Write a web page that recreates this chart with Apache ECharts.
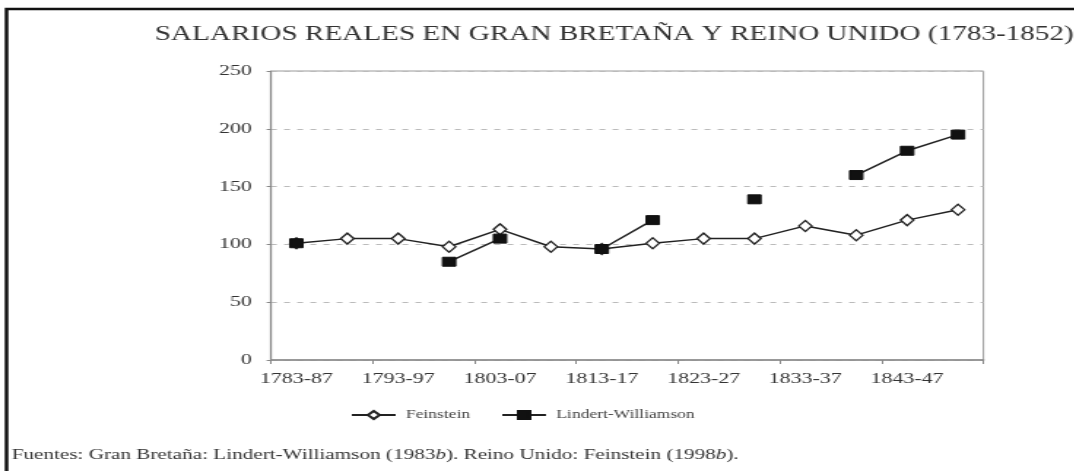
<!DOCTYPE html>
<html>
<head>
<meta charset="utf-8">
<script src="https://cdn.jsdelivr.net/npm/echarts@6/dist/echarts.min.js"></script>
<style>
  html, body { margin: 0; padding: 0; background: #fff; overflow: hidden; }
  /* the source figure is stretched sideways, so the chart is drawn narrow and widened */
  #chart { width: 736px; height: 471px; transform: scaleX(1.46); transform-origin: 0 0; }
</style>
</head>
<body>
<div id="chart"></div>
<script>
// periods (five-year blocks)
const periods = ['1783-87', '1788-92', '1793-97', '1798-1802', '1803-07', '1808-12', '1813-17',
  '1818-22', '1823-27', '1828-32', '1833-37', '1838-42', '1843-47', '1848-52'];

const feinstein = [101, 105, 105, 98, 113, 98, 96, 101, 105, 105, 116, 108, 121, 130];
const lindertWilliamson = [101, null, null, 85, 105, null, 96, 121, null, 139, null, 160, 181, 195];

const yTicks = { min: 0, max: 250, interval: 50 };

const serif = '"Liberation Serif", "DejaVu Serif", serif';
const ink = '#222';

const chart = echarts.init(document.getElementById('chart'));

chart.setOption({
  backgroundColor: '#fff',
  animation: false,
  textStyle: { fontFamily: serif },
  title: {
    text: 'SALARIOS REALES EN GRAN BRETAÑA Y REINO UNIDO (1783-1852)',
    left: 101,
    top: 20,
    textStyle: { fontFamily: serif, fontSize: 20, fontWeight: 'normal', color: '#333' }
  },
  legend: {
    left: 235,
    top: 404,
    itemWidth: 30,
    itemHeight: 10,
    itemGap: 21,
    textStyle: { fontFamily: serif, fontSize: 12, color: '#444', padding: [0, 0, 0, 2] },
    data: ['Feinstein', 'Lindert-Williamson']
  },
  grid: {
    left: 185.6, right: 62.4, top: 71, bottom: 111,
    show: true, borderColor: '#9a9a9a', borderWidth: 1
  },
  xAxis: {
    type: 'category',
    data: periods,
    boundaryGap: true,
    axisLine: { lineStyle: { color: '#888', width: 1.5 } },
    axisTick: { show: true, length: 4, lineStyle: { color: '#888' } },
    axisLabel: {
      interval: 1,
      margin: 12,
      fontFamily: serif, fontSize: 15, color: '#333'
    },
    splitLine: { show: false }
  },
  yAxis: {
    type: 'value',
    min: yTicks.min,
    max: yTicks.max,
    interval: yTicks.interval,
    axisLine: { show: true, lineStyle: { color: '#888', width: 1.2 } },
    axisTick: { show: true, length: 3, lineStyle: { color: '#888' } },
    axisLabel: { margin: 13, fontFamily: serif, fontSize: 15, color: '#333' },
    splitLine: { lineStyle: { color: '#bbb', type: [4, 5], width: 1 } }
  },
  series: [
    {
      name: 'Feinstein',
      type: 'line',
      data: feinstein,
      symbol: 'diamond',
      symbolSize: [9, 11],
      lineStyle: { color: ink, width: 1.5 },
      itemStyle: { color: '#fff', borderColor: ink, borderWidth: 1.3 },
      z: 3
    },
    {
      name: 'Lindert-Williamson',
      type: 'line',
      data: lindertWilliamson,
      connectNulls: false,
      symbol: 'rect',
      symbolSize: [9, 9],
      lineStyle: { color: ink, width: 1.5 },
      itemStyle: { color: '#111', borderColor: '#111', borderWidth: 1 },
      z: 4
    }
  ],
  graphic: [
    {
      type: 'rect',
      shape: { x: 4.5, y: 9, width: 1000, height: 600 },
      style: { fill: 'none', stroke: '#111', lineWidth: 2.5 },
      silent: true
    },
    {
      type: 'text',
      left: 8,
      top: 448,
      style: {
        text: 'Fuentes: Gran Bretaña: Lindert-Williamson (1983{i|b}). Reino Unido: Feinstein (1998{i|b}).',
        font: '14.5px ' + serif,
        fill: '#333',
        rich: {
          i: { fontStyle: 'italic', fontSize: 14.5, fontFamily: serif, fill: '#333' }
        }
      }
    }
  ]
});
</script>
</body>
</html>
